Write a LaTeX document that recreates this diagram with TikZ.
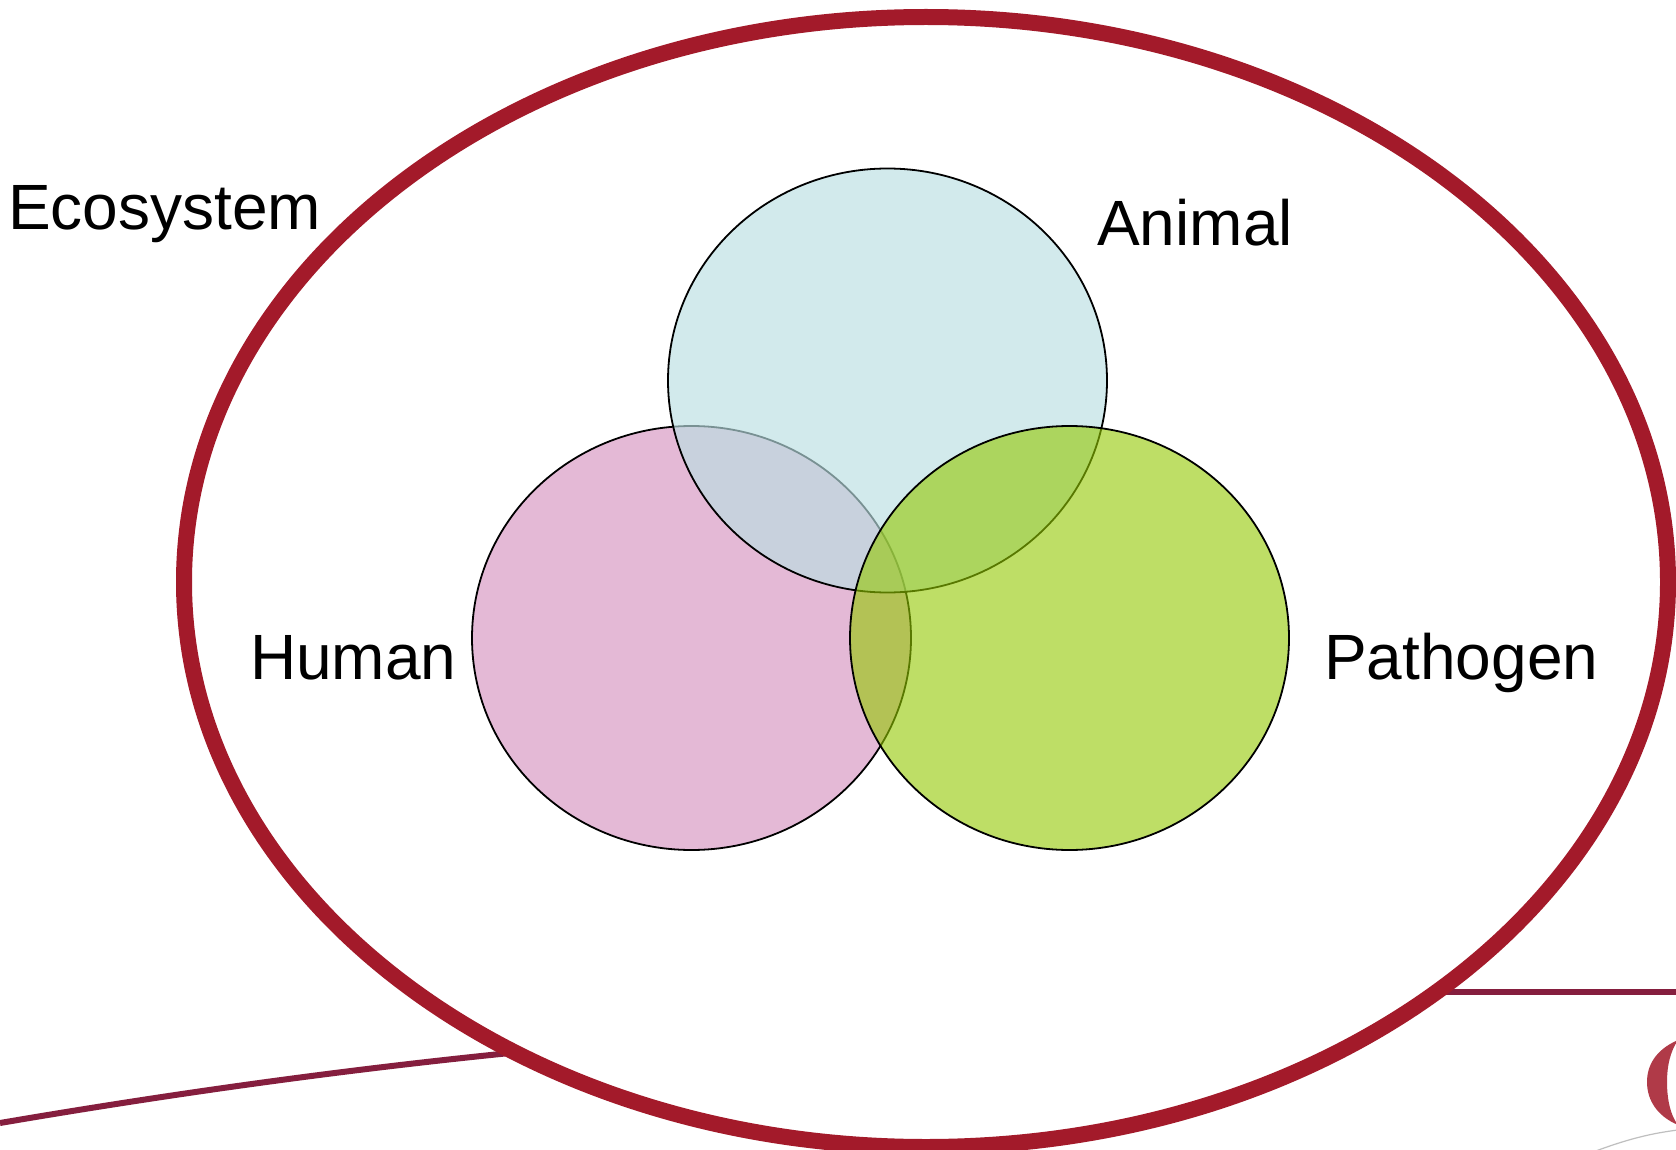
\documentclass[tikz,border=0pt]{standalone}
\usepackage{fontspec}
\setmainfont{Liberation Sans}
\definecolor{ecored}{RGB}{163,26,42}
\definecolor{barred}{RGB}{133,30,62}
\definecolor{logored}{RGB}{176,58,72}
\definecolor{humanfill}{RGB}{228,185,214}
\definecolor{animalfill}{RGB}{186,223,226}
\definecolor{pathogenfill}{RGB}{147,200,0}
\tikzset{
  setring/.style={draw=black,line width=1.8pt},
  setlabel/.style={anchor=base west,inner sep=0pt,font=\fontsize{64}{70}\selectfont},
  barline/.style={draw=barred,line width=6pt}
}
\begin{document}
\begin{tikzpicture}[x=1pt,y=-1pt]
\pgfmathsetmacro{\setrad}{219.5}
\pgfmathsetmacro{\sethgt}{212}
\useasboundingbox (0,0) rectangle (1676,1150);
\clip (0,0) rectangle (1676,1150);
\fill[white] (0,0) rectangle (1676,1150);
% bars and logo behind the ring
\draw[barline] (0,1123) .. controls (170,1094) and (340,1070) .. (520,1052);
\draw[barline] (1430,992) -- (1676,992);
\fill[logored] (1678,1040) .. controls (1655,1050) and (1647,1066) .. (1647,1082) .. controls (1647,1100) and (1657,1116) .. (1678,1125) .. controls (1670,1115) and (1667,1098) .. (1667,1082) .. controls (1667,1066) and (1670,1052) .. (1678,1040) -- cycle;
\draw[black!25,line width=1.2pt] (1593,1152) .. controls (1620,1142) and (1645,1134) .. (1678,1130);
\draw[ecored,line width=16pt,fill=white] (926,582) ellipse (742 and 565);
\draw[setring,fill=humanfill] (691.5,638) ellipse ({\setrad} and {\sethgt});
\draw[setring,fill=animalfill,fill opacity=.65] (887.5,380.5) ellipse ({\setrad} and {\sethgt});
\draw[setring,fill=pathogenfill,fill opacity=.6] (1069.5,638) ellipse ({\setrad} and {\sethgt});
\node[setlabel] (ecosystem) at (8,230) {Ecosystem};
\node[setlabel] (animal) at (1097,246) {Animal};
\node[setlabel] (human) at (250,679) {Human};
\node[setlabel] (pathogen) at (1324,679) {Pathogen};
\end{tikzpicture}
\end{document}
